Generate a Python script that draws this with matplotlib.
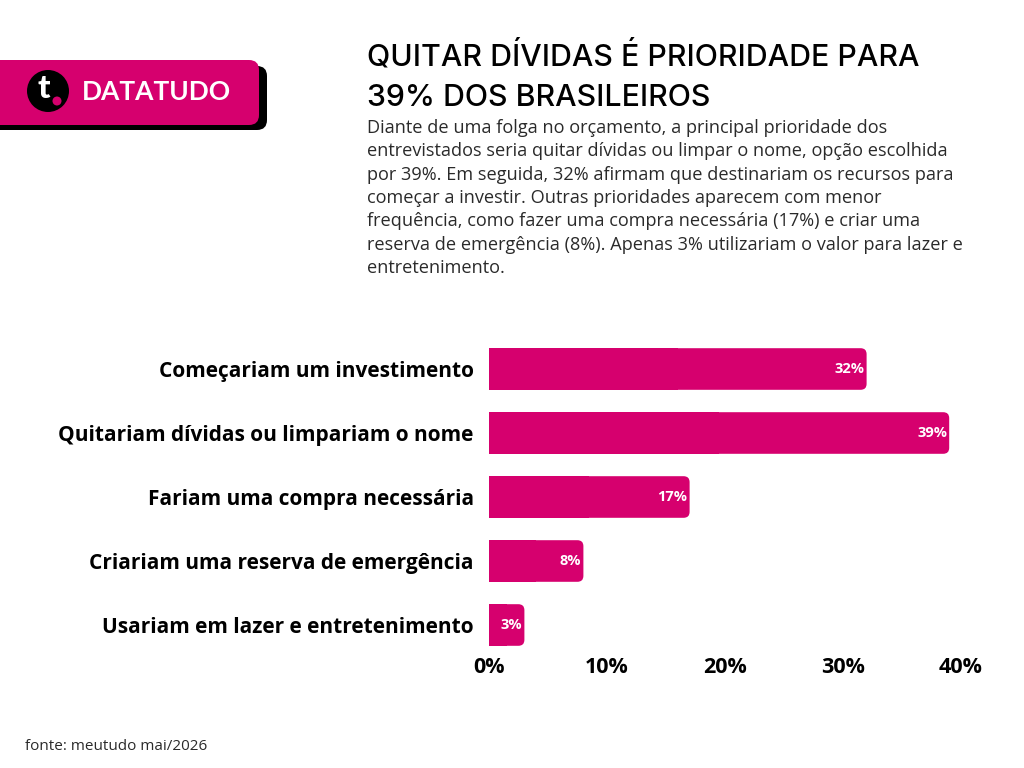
import matplotlib
matplotlib.use("Agg")
import matplotlib.pyplot as plt
from matplotlib.patches import FancyBboxPatch, Circle
import numpy as np

categories = [
    "Começariam um investimento",
    "Quitariam dívidas ou limpariam o nome",
    "Fariam uma compra necessária",
    "Criariam uma reserva de emergência",
    "Usariam em lazer e entretenimento",
]
values = [32, 39, 17, 8, 3]
xticks = [0, 10, 20, 30, 40]
xtick_labels = ["0%", "10%", "20%", "30%", "40%"]

title_lines = ["QUITAR DÍVIDAS É PRIORIDADE PARA", "39% DOS BRASILEIROS"]
body_lines = [
    "Diante de uma folga no orçamento, a principal prioridade dos",
    "entrevistados seria quitar dívidas ou limpar o nome, opção escolhida",
    "por 39%. Em seguida, 32% afirmam que destinariam os recursos para",
    "começar a investir. Outras prioridades aparecem com menor",
    "frequência, como fazer uma compra necessária (17%) e criar uma",
    "reserva de emergência (8%). Apenas 3% utilizariam o valor para lazer e",
    "entretenimento.",
]
source = "fonte: meutudo mai/2026"
brand = "DATATUDO"

PINK = "#D6006E"
W, H = 1024, 768
fig = plt.figure(figsize=(W / 100, H / 100), dpi=100)
fig.patch.set_facecolor("white")

ax_l, ax_r = 489, 961
ax_t, ax_b = 337, 657
ax = fig.add_axes([ax_l / W, 1 - ax_b / H, (ax_r - ax_l) / W, (ax_b - ax_t) / H])
n = len(categories)
ax.set_xlim(0, 40)
ax.set_ylim(n - 0.5, -0.5)
ypos = np.arange(n)
bh = 0.65

xu_per_px = 40 / (ax_r - ax_l)
yu_per_px = n / (ax_b - ax_t)
r_px = 6
for y, v in zip(ypos, values):
    ax.barh(y, v / 2, height=bh, color=PINK, left=0, linewidth=0)
    p = FancyBboxPatch((0, y - bh / 2), v, bh,
                       boxstyle=f"round,pad=0,rounding_size={r_px * xu_per_px}",
                       mutation_aspect=yu_per_px / xu_per_px,
                       facecolor=PINK, edgecolor="none")
    ax.add_patch(p)
    ax.text(v - 2 * xu_per_px, y, f"{v}%", ha="right", va="center",
            color="white", fontsize=10.5, fontweight="bold", family="Open Sans")

for s in ax.spines.values():
    s.set_visible(False)
ax.set_yticks(ypos)
ax.set_yticklabels(categories, fontsize=15, fontweight="bold", family="Open Sans")
ax.tick_params(axis="y", length=0, pad=11)
ax.set_xticks(xticks)
ax.set_xticklabels(xtick_labels, fontsize=15.5, fontweight="bold", family="Open Sans")
ax.tick_params(axis="x", length=0, pad=0)

fig.text(367 / W, 1 - 56 / H, title_lines[0], fontsize=21.8,
         family="Inter", fontweight="medium", va="center", ha="left")
fig.text(367 / W, 1 - 98 / H, title_lines[1], fontsize=21.8,
         family="Inter", fontweight="medium", va="center", ha="left")
for i, line in enumerate(body_lines):
    fig.text(367 / W, 1 - (128 + i * 23.3) / H, line, fontsize=13.1,
             family="Open Sans", va="center", ha="left", color="#2a2a2a")
fig.text(25 / W, 1 - 746 / H, source, fontsize=11, family="Open Sans",
         va="center", ha="left", color="#2a2a2a")

lax = fig.add_axes([0, 0, 1, 1], zorder=-1)
lax.set_xlim(0, W)
lax.set_ylim(H, 0)
lax.axis("off")
shadow = FancyBboxPatch((-20, 66), 287, 64, boxstyle="round,pad=0,rounding_size=10",
                        facecolor="black", edgecolor="none")
banner = FancyBboxPatch((-20, 60), 279, 65, boxstyle="round,pad=0,rounding_size=10",
                        facecolor=PINK, edgecolor="none")
lax.add_patch(shadow)
lax.add_patch(banner)
lax.add_patch(Circle((48, 91), 21, facecolor="black", edgecolor="none"))
lax.text(44, 89, "t", color="white", fontsize=24, fontweight="black", family="Lato",
         ha="center", va="center")
lax.add_patch(Circle((57, 101), 4.5, facecolor=PINK, edgecolor="none"))
lax.text(82, 92, brand, color="white", fontsize=19, fontweight="bold", family="Lato",
         ha="left", va="center")

fig.savefig("out.png", dpi=100, facecolor="white")
